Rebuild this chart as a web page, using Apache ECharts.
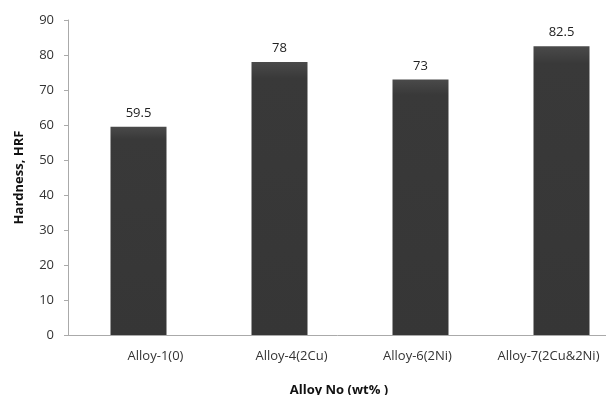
<!DOCTYPE html>
<html>
<head>
<meta charset="utf-8">
<script src="https://cdn.jsdelivr.net/npm/echarts@6/dist/echarts.min.js"></script>
<style>
  html, body { margin: 0; padding: 0; background: #fff; }
  #chart { width: 606px; height: 395px; }
</style>
</head>
<body>
<div id="chart"></div>
<script>
// Hardness of each alloy composition
const categories = ['Alloy-1(0)', 'Alloy-4(2Cu)', 'Alloy-6(2Ni)', 'Alloy-7(2Cu&2Ni)'];
const hardness = [59.5, 78, 73, 82.5];
const yTicks = { min: 0, max: 90, interval: 10 };

// horizontal nudge of each category label (left pad, right pad)
const labelPads = [[34, 0], [24, 0], [0, 6], [0, 26]];

const chart = echarts.init(document.getElementById('chart'), null, { renderer: 'canvas' });

const categoryItems = categories.map((name, i) => ({
  value: name,
  textStyle: { padding: [0, labelPads[i][1], 0, labelPads[i][0]] }
}));

chart.setOption({
  backgroundColor: '#ffffff',
  animation: false,
  grid: { left: 68, top: 20, width: 564, height: 315, outerBoundsMode: 'none', containLabel: false },
  xAxis: {
    type: 'category',
    data: categoryItems,
    name: 'Alloy No (wt% )',
    nameLocation: 'middle',
    nameGap: 49,
    nameTextStyle: { fontFamily: 'Open Sans', fontSize: 13, fontWeight: 'bold', color: '#111', padding: [0, 22, 0, 0] },
    axisLine: { lineStyle: { color: '#aaaaaa', width: 1 } },
    axisTick: { show: false },
    axisLabel: { fontFamily: 'Open Sans', fontSize: 13, color: '#333', margin: 15 }
  },
  yAxis: {
    type: 'value',
    min: yTicks.min,
    max: yTicks.max,
    interval: yTicks.interval,
    name: 'Hardness, HRF',
    nameLocation: 'middle',
    nameGap: 42,
    nameRotate: 90,
    nameTextStyle: { fontFamily: 'Open Sans', fontSize: 13, fontWeight: 'bold', color: '#111' },
    axisLine: { show: true, lineStyle: { color: '#aaaaaa', width: 1 } },
    axisTick: { show: true, inside: false, length: 4, lineStyle: { color: '#aaaaaa' } },
    axisLabel: { fontFamily: 'Open Sans', fontSize: 13, color: '#333', margin: 14 },
    splitLine: { show: false }
  },
  series: [{
    type: 'bar',
    data: hardness,
    barWidth: 56,
    itemStyle: {
      color: new echarts.graphic.LinearGradient(0, 0, 0, 1, [
        { offset: 0, color: '#4a4a4a' },
        { offset: 0.06, color: '#393939' },
        { offset: 1, color: '#363636' }
      ])
    },
    label: {
      show: true,
      position: 'top',
      distance: 7,
      fontFamily: 'Open Sans',
      fontSize: 13,
      color: '#222'
    }
  }]
});
</script>
</body>
</html>
